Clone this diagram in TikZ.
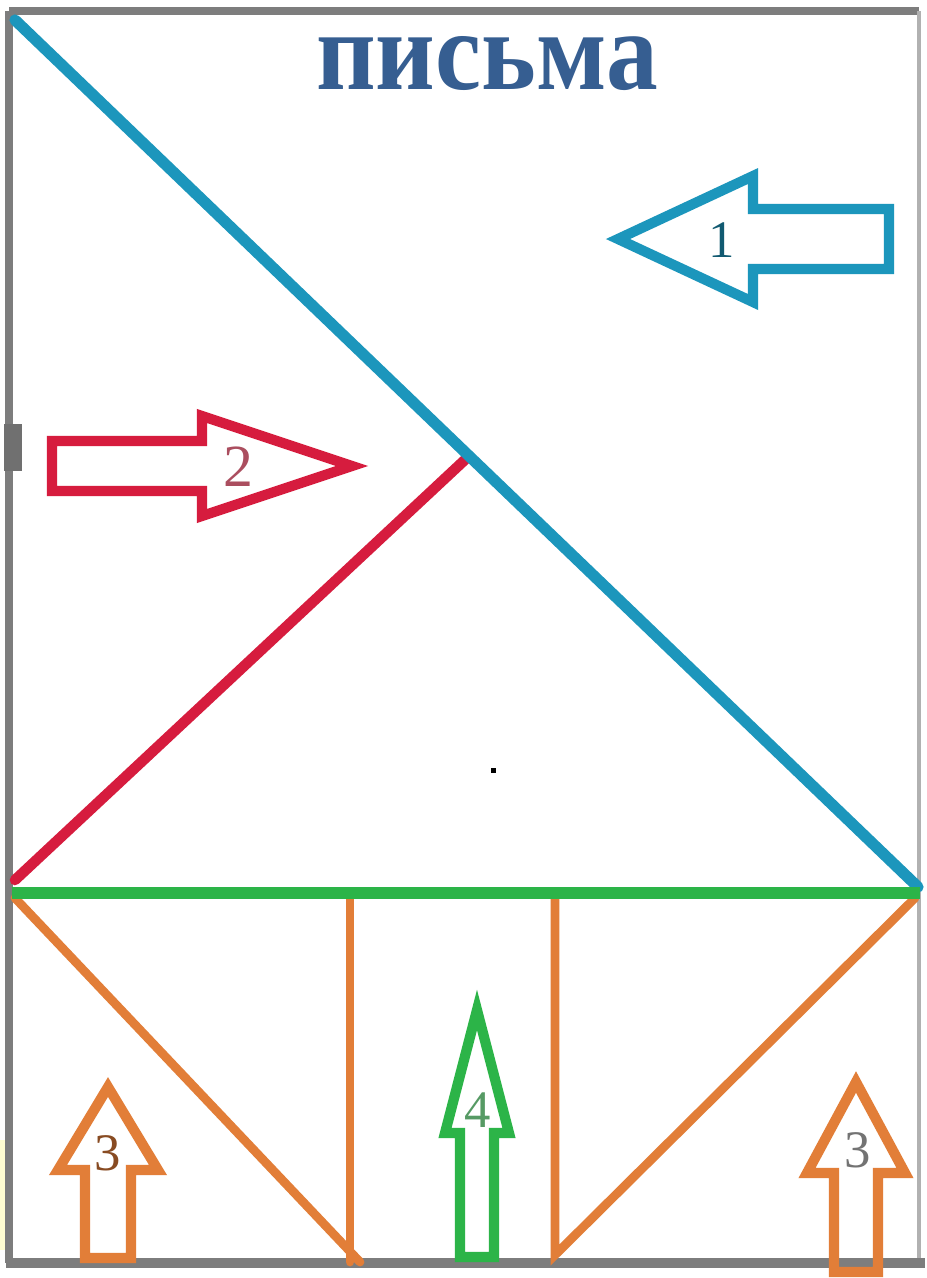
\documentclass[tikz,border=0pt]{standalone}
\usepackage{fontspec}
\setmainfont{Liberation Serif}
\usetikzlibrary{calc}
\definecolor{frame}{RGB}{125,125,125}
\definecolor{sky}{RGB}{28,150,188}
\definecolor{rose}{RGB}{214,28,62}
\definecolor{grass}{RGB}{44,180,72}
\definecolor{rust}{RGB}{226,126,56}
\definecolor{heading}{RGB}{54,94,145}
\tikzset{
  rim/.style={draw=frame,line width=#1},
  rim/.default=1.8pt,
  stroke/.style={draw=#1,line width=3.2pt,line cap=round},
  stroke/.default=sky,
  num/.style={font=\fontsize{15}{15}\selectfont,text=#1,inner sep=0pt},
  num/.default=black!60,
  % outlined block arrow: colour/length/head length/shaft half/head half
  pics/blockarrow/.style args={#1/#2/#3/#4/#5}{code={
    \draw[#1,line width=2.9pt,line join=miter]
      (0,-#4) -- (#2-#3,-#4) -- (#2-#3,-#5) -- (#2,0)
      -- (#2-#3,#5) -- (#2-#3,#4) -- (0,#4) -- cycle;
  }},
}
\begin{document}
\begin{tikzpicture}[x=0.01cm,y=-0.01cm]
  \useasboundingbox[fill=white] (0,0) rectangle (927,1278);
  \fill[yellow!18] (0,1140) rectangle (6,1250);
  % frame
  \draw[rim=2.2pt] (9,11) -- (919,11);
  \draw[rim=2.2pt] (9,11) -- (9,1263);
  \draw[rim=0.9pt,draw=frame!60] (919,11) -- (919,1263);
  \draw[rim=2.6pt] (6,1263) -- (925,1263);
  \fill[frame!90!black] (4,424) rectangle (22,471);
  % main lines
  \coordinate (corner) at (15,20);
  \coordinate (apex) at (469,456);
  \coordinate (far) at (918,887);
  \coordinate (low) at (15,880);
  \coordinate (gl) at (12,893);
  \coordinate (gr) at (920,893);
  \coordinate (ol) at (15,898);
  \coordinate (or) at (915,898);
  \coordinate (foot) at (360,1262);
  \coordinate (pa) at (350,898);
  \coordinate (pb) at (350,1262);
  \coordinate (qa) at (555,898);
  \coordinate (qb) at (555,1255);
  \draw[stroke=rust,line width=2.5pt] (ol) -- (foot);
  \draw[stroke=rust,line width=2.5pt] (pa) -- (pb);
  \draw[stroke=rust,line width=2.5pt] (qa) -- (qb) -- (or);
  \draw[stroke=rose,line width=3pt] (low) -- (apex);
  \draw[stroke] (corner) -- (far);
  \draw[stroke=grass,line width=3.4pt,line cap=butt] (gl) -- (gr);
  \fill (491,768) rectangle (496,773);
  % title
  \node[font=\bfseries\fontsize{32}{34}\selectfont,text=heading,xscale=0.92,inner sep=0pt] (ttl) at (487,64) {письма};
  % arrows
  \pic[rotate=180] (one) at (889,239) {blockarrow=sky/271/135/30/63};
  \pic (two) at (52,466) {blockarrow=rose/300/150/25/50};
  \pic[rotate=90] (threeL) at (108,1258) {blockarrow=rust/171/83/23/50};
  \pic[rotate=90] (four) at (477,1257) {blockarrow=grass/247/123/17/32};
  \pic[rotate=90] (threeR) at (856,1272) {blockarrow=rust/190/91/22/49};
  % labels
  \node[num=sky!60!black] (n1) at (722,240) {1};
  \node[num=rose!50!gray,font=\fontsize{17}{17}\selectfont] (n2) at (238,467) {2};
  \node[num=rust!60!black] (n3l) at (108,1153) {3};
  \node[num=grass!50!gray] (n4) at (478,1110) {4};
  \node[num=black!55] (n3r) at (858,1150) {3};
\end{tikzpicture}
\end{document}
